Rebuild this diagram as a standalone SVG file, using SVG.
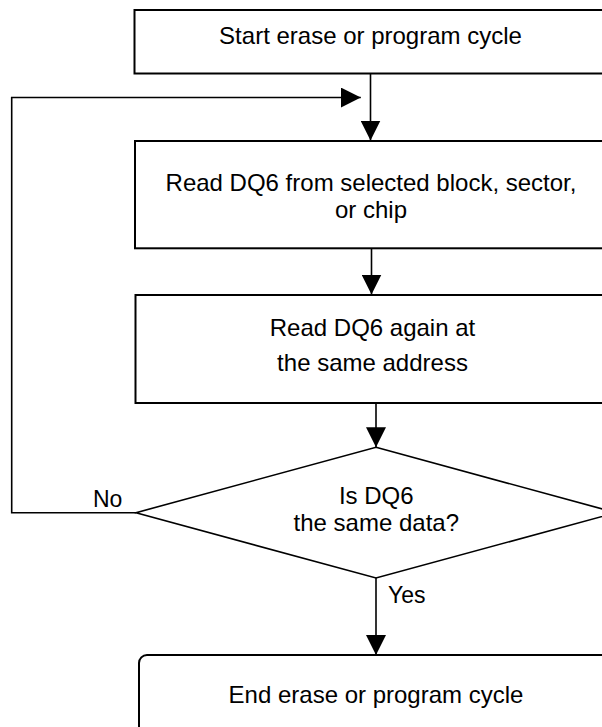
<svg xmlns="http://www.w3.org/2000/svg" width="602" height="727" viewBox="0 0 602 727">
  <defs>
    <marker id="arrow" markerUnits="userSpaceOnUse" markerWidth="20" markerHeight="20" refX="20" refY="10" orient="auto">
      <path d="M0,0 L20,10 L0,20 z" fill="#000"/>
    </marker>
    <style>
      .box { fill: #fff; stroke: #000; stroke-width: 2; }
      .dia { fill: #fff; stroke: #000; stroke-width: 1.6; }
      .conn { fill: none; stroke: #000; stroke-width: 1.6; marker-end: url(#arrow); }
      .t { font-family: "Liberation Sans", Arial, sans-serif; font-size: 24px; fill: #000; text-anchor: middle; }
      .lbl { font-family: "Liberation Sans", Arial, sans-serif; font-size: 23px; fill: #000; }
    </style>
  </defs>
  <rect width="602" height="727" fill="#fff"/>

  <g id="connectors">
    <line class="conn" x1="370.5" y1="74" x2="370.5" y2="140.5"/>
    <polyline class="conn" points="136,512.7 11.7,512.7 11.7,97.5 360.8,97.5"/>
    <line class="conn" x1="371.5" y1="248.5" x2="371.5" y2="294.5"/>
    <line class="conn" x1="376" y1="403.5" x2="376" y2="447.3"/>
    <line class="conn" x1="376" y1="578" x2="376" y2="655"/>
  </g>

  <g id="start">
    <rect class="box" x="134.5" y="10" width="472" height="63.5"/>
    <text class="t" x="370.5" y="43.5">Start erase or program cycle</text>
  </g>

  <g id="read1">
    <rect class="box" x="135" y="141" width="472" height="107.3"/>
    <text class="t" x="371" y="190.7">Read DQ6 from selected block, sector,</text>
    <text class="t" x="371" y="218.3">or chip</text>
  </g>

  <g id="read2">
    <rect class="box" x="135.5" y="295" width="472" height="108"/>
    <text class="t" x="372.5" y="335.7">Read DQ6 again at</text>
    <text class="t" x="372.5" y="371">the same address</text>
  </g>

  <g id="decision">
    <polygon class="dia" points="376,447.3 616,512.7 376,578 136,512.7"/>
    <text class="t" x="376.3" y="504">Is DQ6</text>
    <text class="t" x="376.3" y="530.7">the same data?</text>
  </g>

  <g id="labels">
    <text class="lbl" x="93" y="507.3">No</text>
    <text class="lbl" x="388" y="602.7">Yes</text>
  </g>

  <g id="end">
    <rect class="box" x="139" y="655" width="474" height="90" rx="8" ry="8"/>
    <text class="t" x="376" y="702.7">End erase or program cycle</text>
  </g>
</svg>
